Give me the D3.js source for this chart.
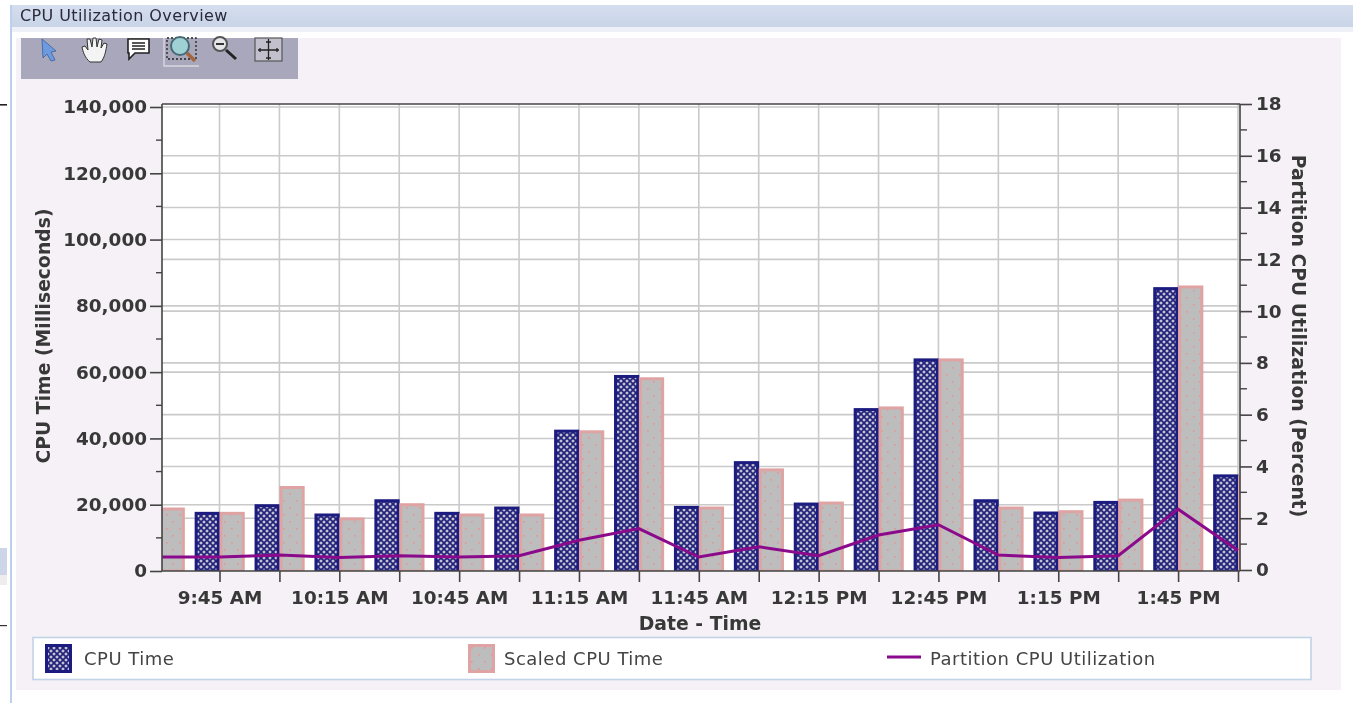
<!DOCTYPE html>
<html><head><meta charset="utf-8">
<script src="https://cdn.jsdelivr.net/npm/d3@7"></script>
<style>
html,body{margin:0;padding:0;background:#fff;overflow:hidden}
svg{display:block;font-family:"DejaVu Sans";filter:blur(.4px)}
.tick text{font-family:"DejaVu Sans";font-weight:bold;font-size:18.4px;fill:#383838}
.tick line,.domain{stroke:#444;stroke-width:1.6}
</style></head><body><svg id="c" width="1353" height="703"></svg>
<script>
const times=["9:30 AM","9:45 AM","10:00 AM","10:15 AM","10:30 AM","10:45 AM","11:00 AM","11:15 AM","11:30 AM","11:45 AM","12:00 PM","12:15 PM","12:30 PM","12:45 PM","1:00 PM","1:15 PM","1:30 PM","1:45 PM","2:00 PM"];
const xLabels=["9:45 AM","10:15 AM","10:45 AM","11:15 AM","11:45 AM","12:15 PM","12:45 PM","1:15 PM","1:45 PM"];
const cpuTime=[18500,17700,20000,17200,21500,17700,19300,42500,59000,19500,33000,20500,49000,64000,21500,17800,21000,85500,29000];
const scaledCpuTime=[19000,17700,25500,16000,20300,17200,17200,42300,58300,19300,30800,20800,49500,64000,19300,18200,21700,86000,28500];
const partitionUtil=[0.5,0.5,0.58,0.48,0.55,0.5,0.55,1.15,1.6,0.5,0.9,0.55,1.35,1.75,0.58,0.48,0.55,2.35,0.75];
const leftTicks=[0,20000,40000,60000,80000,100000,120000,140000];
const leftMinor=[10000,30000,50000,70000,90000,110000,130000];
const rightTicks=[0,2,4,6,8,10,12,14,16,18];
const rightMinor=[1,3,5,7,9,11,13,15,17];
const seriesNames=["CPU Time","Scaled CPU Time"];
const legendLabels=["CPU Time","Scaled CPU Time","Partition CPU Utilization"];

const svg=d3.select("#c");
const plot={l:162,r:1240,t:104,b:571};
const defs=svg.append("defs");
// fill patterns
const p1=defs.append("pattern").attr("id","pCpu").attr("patternUnits","userSpaceOnUse").attr("width",6).attr("height",6);
p1.append("rect").attr("width",6).attr("height",6).attr("fill","#22227c");
[[0,0],[3,3],[6,0],[0,6],[6,6]].forEach(d=>p1.append("path")
  .attr("d",`M${d[0]-1.8},${d[1]}L${d[0]},${d[1]-1.8}L${d[0]+1.8},${d[1]}L${d[0]},${d[1]+1.8}Z`).attr("fill","#c6c6d2"));
const p2=defs.append("pattern").attr("id","pScaled").attr("patternUnits","userSpaceOnUse").attr("width",13).attr("height",14);
p2.append("rect").attr("width",13).attr("height",14).attr("fill","#bdbdbd");
[[3,3],[10,10]].forEach(d=>p2.append("rect").attr("x",d[0]).attr("y",d[1]).attr("width",1.6).attr("height",1.6).attr("fill","#e89494"));
defs.append("clipPath").attr("id","clipPlot").append("rect").attr("x",plot.l).attr("y",plot.t).attr("width",plot.r-plot.l).attr("height",plot.b-plot.t);

// window chrome
svg.append("rect").attr("x",10).attr("y",5).attr("width",2).attr("height",698).attr("fill","#bcd0ec");
const tg=defs.append("linearGradient").attr("id","tb").attr("x1",0).attr("y1",0).attr("x2",0).attr("y2",1);
tg.append("stop").attr("offset",0).attr("stop-color","#d5deee");tg.append("stop").attr("offset",1).attr("stop-color","#c9d4e8");
svg.append("rect").attr("x",12).attr("y",5).attr("width",1341).attr("height",22).attr("fill","url(#tb)");
svg.append("rect").attr("x",12).attr("y",27).attr("width",1341).attr("height",5).attr("fill","#eef1f7");
svg.append("text").attr("x",20).attr("y",21).attr("font-size",16).attr("letter-spacing",".4").attr("fill","#2a2a3a").text("CPU Utilization Overview");
svg.append("rect").attr("x",16).attr("y",38).attr("width",1325).attr("height",652).attr("fill","#f5f1f6");
svg.append("rect").attr("x",0).attr("y",548).attr("width",7).attr("height",27).attr("fill","#cdd6e8");
svg.append("rect").attr("x",0).attr("y",575).attr("width",7).attr("height",10).attr("fill","#ededed");
svg.append("rect").attr("x",0).attr("y",104).attr("width",7).attr("height",1.6).attr("fill","#222");
svg.append("rect").attr("x",0).attr("y",625).attr("width",7).attr("height",1.2).attr("fill","#333");

// toolbar
svg.append("rect").attr("x",21).attr("y",38).attr("width",277).attr("height",41).attr("fill","#a9a7bb");
const tb=svg.append("g");
tb.append("path").attr("d","M42,39L56,51L51,52L55,60L51,61L47,54L43,58Z").attr("fill","#6c9be0").attr("stroke","#3c5d9c").attr("stroke-width",.8);
tb.append("path").attr("d","M90,62C85,58 83,52 82,47L85,46L88,50L87,39L90,39L92,47L93,38L96,38L97,47L99,39L102,40L101,48L104,43L107,44C106,50 105,57 101,62Z").attr("fill","#f4f4f4").attr("stroke","#333").attr("stroke-width",1);
tb.append("path").attr("d","M128,39H149V53H135L129,59V53H128Z").attr("fill","#fff").attr("stroke","#222").attr("stroke-width",1.6);
tb.append("path").attr("d","M132,43H145M132,46H145M132,49H145").attr("stroke","#222").attr("stroke-width",1.4);
tb.append("path").attr("d","M164,38V66H199").attr("fill","none").attr("stroke","#d8d8e0").attr("stroke-width",1.4);
tb.append("rect").attr("x",167).attr("y",38).attr("width",29).attr("height",21).attr("fill","none").attr("stroke","#222").attr("stroke-width",1.3).attr("stroke-dasharray","2 2");
tb.append("circle").attr("cx",180).attr("cy",46).attr("r",9).attr("fill","#9fd0d4").attr("stroke","#446a74").attr("stroke-width",2);
tb.append("path").attr("d","M187,53L195,61").attr("stroke","#a4643c").attr("stroke-width",3.5);
tb.append("circle").attr("cx",220).attr("cy",44).attr("r",7).attr("fill","#e6e6ea").attr("stroke","#555").attr("stroke-width",2);
tb.append("path").attr("d","M216,44H224").attr("stroke","#333").attr("stroke-width",2);
tb.append("path").attr("d","M226,50L236,59").attr("stroke","#222").attr("stroke-width",3);
tb.append("rect").attr("x",255).attr("y",38).attr("width",27).attr("height",23).attr("fill","#c2c0cc").attr("stroke","#555").attr("stroke-width",1.2);
tb.append("path").attr("d","M268.5,39V60M258,50H279M266,42H271M266,58H271M260,48V52M277,48V52").attr("stroke","#222").attr("stroke-width",1.3).attr("fill","none");

// scales
const x=d3.scalePoint().domain(times).range([159.6,1238]);
const half=x.step()*0.415;
const x1=d3.scaleBand().domain(seriesNames).range([-half,half]);
const yL=d3.scaleLinear().domain([0,140000]).range([571,107]);
const yR=d3.scaleLinear().domain([0,18]).range([570,104]);
const edge=1; // keeps the thick bar outline inside the value height

// plot background & grid
svg.append("rect").attr("x",plot.l).attr("y",plot.t).attr("width",plot.r-plot.l).attr("height",plot.b-plot.t).attr("fill","#fff");
const grid=svg.append("g").attr("stroke","#cacaca").attr("stroke-width",1.6);
grid.selectAll(".gx").data(times.slice(1)).join("line").attr("x1",d=>x(d)).attr("x2",d=>x(d)).attr("y1",plot.t).attr("y2",plot.b);
grid.selectAll(".gl").data(leftTicks.slice(1)).join("line").attr("x1",plot.l).attr("x2",plot.r).attr("y1",d=>yL(d)).attr("y2",d=>yL(d));
grid.selectAll(".gr").data(rightTicks.slice(1,-1)).join("line").attr("x1",plot.l).attr("x2",plot.r).attr("y1",d=>yR(d)).attr("y2",d=>yR(d));

// bars
const marks=svg.append("g").attr("clip-path","url(#clipPlot)");
marks.selectAll(".cpu").data(times).join("rect")
  .attr("x",d=>x(d)+x1("CPU Time")+1.5).attr("width",x1.bandwidth()-2.6)
  .attr("y",(d,i)=>yL(cpuTime[i])+edge).attr("height",(d,i)=>yL(0)-yL(cpuTime[i])-edge)
  .attr("fill","url(#pCpu)").attr("stroke","#1c1c80").attr("stroke-width",3);
marks.selectAll(".sc").data(times).join("rect")
  .attr("x",d=>x(d)+x1("Scaled CPU Time")+1.5).attr("width",x1.bandwidth()-2.6)
  .attr("y",(d,i)=>yL(scaledCpuTime[i])+edge).attr("height",(d,i)=>yL(0)-yL(scaledCpuTime[i])-edge)
  .attr("fill","url(#pScaled)").attr("stroke","#dfa3a3").attr("stroke-width",3);
marks.append("path").datum(partitionUtil)
  .attr("d",d3.line().x((d,i)=>x(times[i])).y(d=>yR(d)))
  .attr("fill","none").attr("stroke","#8b0a8b").attr("stroke-width",3);

// frame top
svg.append("line").attr("x1",plot.l).attr("x2",plot.r).attr("y1",plot.t).attr("y2",plot.t).attr("stroke","#444").attr("stroke-width",1.6);

// axes
const aL=svg.append("g").attr("transform",`translate(${plot.l},0)`)
  .call(d3.axisLeft(yL).tickValues(leftTicks).tickFormat(d3.format(",")).tickSize(12).tickSizeOuter(0).tickPadding(3));
aL.select(".domain").attr("d",`M0,${plot.t}V${plot.b}`);
svg.append("g").attr("transform",`translate(${plot.l},0)`).attr("stroke","#444").attr("stroke-width",1.4)
  .selectAll("line").data(leftMinor).join("line").attr("x1",-6).attr("x2",0).attr("y1",d=>yL(d)).attr("y2",d=>yL(d));
const aR=svg.append("g").attr("transform",`translate(${plot.r},0)`)
  .call(d3.axisRight(yR).tickValues(rightTicks).tickSize(12).tickSizeOuter(0).tickPadding(4));
aR.select(".domain").attr("d",`M0,${plot.t}V${plot.b}`);
svg.append("g").attr("transform",`translate(${plot.r},0)`).attr("stroke","#444").attr("stroke-width",1.4)
  .selectAll("line").data(rightMinor).join("line").attr("x1",0).attr("x2",7).attr("y1",d=>yR(d)).attr("y2",d=>yR(d));
const aB=svg.append("g").attr("transform",`translate(0,${plot.b})`)
  .call(d3.axisBottom(x).tickValues(times.slice(1)).tickFormat(d=>xLabels.includes(d)?d:"").tickSize(11).tickSizeOuter(0).tickPadding(9));
aB.select(".domain").attr("d",`M${plot.l},0H${plot.r}`);

// axis titles
const titleAttr=s=>s.attr("font-weight","bold").attr("font-size",18.8).attr("fill","#383838").attr("text-anchor","middle");
svg.append("text").call(titleAttr).attr("x",700).attr("y",630).text("Date - Time");
svg.append("text").call(titleAttr).attr("transform","translate(50,336) rotate(-90)").text("CPU Time (Milliseconds)");
svg.append("text").call(titleAttr).attr("transform","translate(1292,336) rotate(90)").text("Partition CPU Utilization (Percent)");

// legend
svg.append("rect").attr("x",33).attr("y",637.5).attr("width",1278).attr("height",42).attr("fill","#fff").attr("stroke","#c2d3e8").attr("stroke-width",1.6);
const lg=svg.append("g").attr("font-size",18).attr("letter-spacing",".5").attr("fill","#444");
lg.append("rect").attr("x",46.5).attr("y",645.5).attr("width",24).attr("height",26).attr("fill","url(#pCpu)").attr("stroke","#1c1c80").attr("stroke-width",3);
lg.append("rect").attr("x",469.5).attr("y",645.5).attr("width",24).attr("height",26).attr("fill","url(#pScaled)").attr("stroke","#dfa3a3").attr("stroke-width",3);
lg.append("line").attr("x1",887).attr("x2",921).attr("y1",657).attr("y2",657).attr("stroke","#8b0a8b").attr("stroke-width",3);
[84,504,930].forEach((tx,i)=>lg.append("text").attr("x",tx).attr("y",665).text(legendLabels[i]));
</script></body></html>
